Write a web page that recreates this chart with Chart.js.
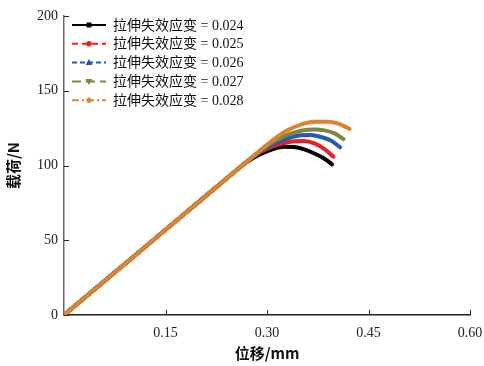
<!DOCTYPE html>
<html>
<head>
<meta charset="utf-8">
<script src="https://cdn.jsdelivr.net/npm/chart.js@4/dist/chart.umd.min.js"></script>
<style>
  html, body { margin: 0; padding: 0; background: #fff; }
  #wrap { width: 484px; height: 366px; }
</style>
</head>
<body>
<div id="wrap"><canvas id="c" width="484" height="366"></canvas></div>
<script>
// displacement (mm) and load (N)
const xBlack  = [0, 0.05, 0.10, 0.15, 0.20, 0.25, 0.27, 0.29, 0.31, 0.325, 0.34, 0.355, 0.37, 0.385, 0.396];
const yBlack  = [0, 19, 38, 57, 76, 95, 102.2, 107.5, 111.2, 112.6, 112.4, 110.8, 108, 104.5, 100.8];
const xRed    = [0, 0.05, 0.10, 0.15, 0.20, 0.25, 0.27, 0.29, 0.31, 0.325, 0.34, 0.355, 0.37, 0.385, 0.398];
const yRed    = [0, 19, 38, 57, 76, 95, 102.4, 108.8, 113, 115, 116.3, 116.4, 114.8, 111, 105.9];
const xBlue   = [0, 0.05, 0.10, 0.15, 0.20, 0.25, 0.27, 0.29, 0.31, 0.33, 0.35, 0.365, 0.38, 0.395, 0.408];
const yBlue   = [0, 19, 38, 57, 76, 95, 102.5, 109.3, 114.5, 118, 120.2, 120.4, 119, 116.5, 112.2];
const xOlive  = [0, 0.05, 0.10, 0.15, 0.20, 0.25, 0.27, 0.29, 0.31, 0.33, 0.35, 0.37, 0.385, 0.40, 0.413];
const yOlive  = [0, 19, 38, 57, 76, 95, 102.6, 109.8, 116, 120.5, 123.3, 124, 123.5, 121.5, 117.7];
const xOrange = [0, 0.05, 0.10, 0.15, 0.20, 0.25, 0.27, 0.29, 0.31, 0.33, 0.35, 0.37, 0.39, 0.41, 0.422];
const yOrange = [0, 19, 38, 57, 76, 95, 102.6, 110.2, 117.5, 123.5, 127.4, 129.2, 129.2, 127.2, 124.5];

const seriesLabels = ['拉伸失效应变 = 0.024', '拉伸失效应变 = 0.025', '拉伸失效应变 = 0.026', '拉伸失效应变 = 0.027', '拉伸失效应变 = 0.028'];
const seriesColors = ['#000000', '#ee1c25', '#2459b3', '#7d8540', '#dd8330'];
const xTicks = [0.15, 0.30, 0.45, 0.60];
const yTicks = [0, 50, 100, 150, 200];

const xs = [xBlack, xRed, xBlue, xOlive, xOrange];
const ys = [yBlack, yRed, yBlue, yOlive, yOrange];

const serif = '"Liberation Serif", "Noto Sans CJK SC", serif';

const datasets = seriesLabels.map((label, i) => ({
  label: label,
  data: xs[i].map((x, j) => ({ x: x, y: ys[i][j] })),
  borderColor: seriesColors[i],
  backgroundColor: seriesColors[i],
  borderWidth: 4,
  borderCapStyle: 'round',
  pointRadius: 0,
  cubicInterpolationMode: 'monotone',
  fill: false,
  order: seriesLabels.length - i   // later series drawn on top
}));

// inward tick marks + legend drawn on the canvas
const decor = {
  id: 'decor',
  afterDraw(chart) {
    const ctx = chart.ctx;
    const xs_ = chart.scales.x, ys_ = chart.scales.y;
    const area = chart.chartArea;
    ctx.save();
    ctx.strokeStyle = '#222';
    ctx.lineWidth = 1;
    xTicks.forEach(v => {
      const px = Math.round(xs_.getPixelForValue(v)) + 0.5;
      ctx.beginPath();
      ctx.moveTo(px, area.bottom);
      ctx.lineTo(px, area.bottom - 5);
      ctx.stroke();
    });
    yTicks.forEach(v => {
      const py = Math.round(ys_.getPixelForValue(v)) + 0.5;
      ctx.beginPath();
      ctx.moveTo(area.left, py);
      ctx.lineTo(area.left + 5, py);
      ctx.stroke();
    });

    // legend
    const dashes = [[], [6, 4], [5, 3], [9, 5], [7, 3, 2, 3]];
    const marks = ['rect', 'circle', 'triangle', 'down', 'pent'];
    ctx.font = '14px ' + serif;
    ctx.textBaseline = 'middle';
    for (let i = 0; i < seriesLabels.length; i++) {
      const y = 25 + i * 18.8;
      ctx.strokeStyle = seriesColors[i];
      ctx.fillStyle = seriesColors[i];
      ctx.lineWidth = 2;
      ctx.setLineDash(dashes[i]);
      ctx.beginPath();
      ctx.moveTo(72, y);
      ctx.lineTo(106, y);
      ctx.stroke();
      ctx.setLineDash([]);
      const cx = 89;
      ctx.beginPath();
      if (marks[i] === 'rect') {
        ctx.rect(cx - 2.5, y - 2.5, 5, 5);
      } else if (marks[i] === 'circle') {
        ctx.arc(cx, y, 2.8, 0, Math.PI * 2);
      } else if (marks[i] === 'triangle') {
        ctx.moveTo(cx, y - 3.5); ctx.lineTo(cx + 3.5, y + 2.5); ctx.lineTo(cx - 3.5, y + 2.5); ctx.closePath();
      } else if (marks[i] === 'down') {
        ctx.moveTo(cx, y + 3.5); ctx.lineTo(cx + 3.5, y - 2.5); ctx.lineTo(cx - 3.5, y - 2.5); ctx.closePath();
      } else {
        for (let k = 0; k < 5; k++) {
          const a = -Math.PI / 2 + k * 2 * Math.PI / 5;
          const px = cx + 3 * Math.cos(a), py = y + 3 * Math.sin(a);
          if (k === 0) ctx.moveTo(px, py); else ctx.lineTo(px, py);
        }
        ctx.closePath();
      }
      ctx.fill();
      ctx.fillStyle = '#111';
      ctx.fillText(seriesLabels[i], 113, y + 1);
    }
    ctx.restore();
  }
};

new Chart(document.getElementById('c').getContext('2d'), {
  type: 'line',
  data: { datasets: datasets },
  plugins: [decor],
  options: {
    responsive: false,
    animation: false,
    layout: { padding: { top: 16, right: 14, left: 0, bottom: 0 } },
    plugins: { legend: { display: false }, tooltip: { enabled: false } },
    scales: {
      x: {
        type: 'linear',
        min: 0,
        max: 0.6,
        afterBuildTicks: s => { s.ticks = xTicks.map(v => ({ value: v })); },
        afterFit: s => { s.height = 51; s.paddingLeft = 0; s.paddingRight = 0; },
        grid: { display: false, drawTicks: false },
        border: { display: true, color: '#222', width: 1.5 },
        ticks: {
          color: '#222',
          padding: 10,
          font: { family: serif, size: 14 },
          callback: v => v.toFixed(2)
        },
        title: {
          display: true,
          text: '位移/mm',
          color: '#111',
          font: { family: '"Noto Sans CJK SC", sans-serif', size: 15, weight: 'bold' },
          padding: { top: 0 }
        }
      },
      y: {
        type: 'linear',
        min: 0,
        max: 200,
        afterBuildTicks: s => { s.ticks = yTicks.map(v => ({ value: v })); },
        afterFit: s => { s.width = 64; s.paddingTop = 0; s.paddingBottom = 0; },
        grid: { display: false, drawTicks: false },
        border: { display: true, color: '#666', width: 1.5 },
        ticks: {
          color: '#222',
          padding: 6,
          font: { family: serif, size: 14 },
          callback: v => String(v)
        },
        title: {
          display: true,
          text: '载荷/N',
          color: '#111',
          font: { family: '"Noto Sans CJK SC", sans-serif', size: 15, weight: 'bold' },
          padding: { bottom: 0 }
        }
      }
    }
  }
});
</script>
</body>
</html>
